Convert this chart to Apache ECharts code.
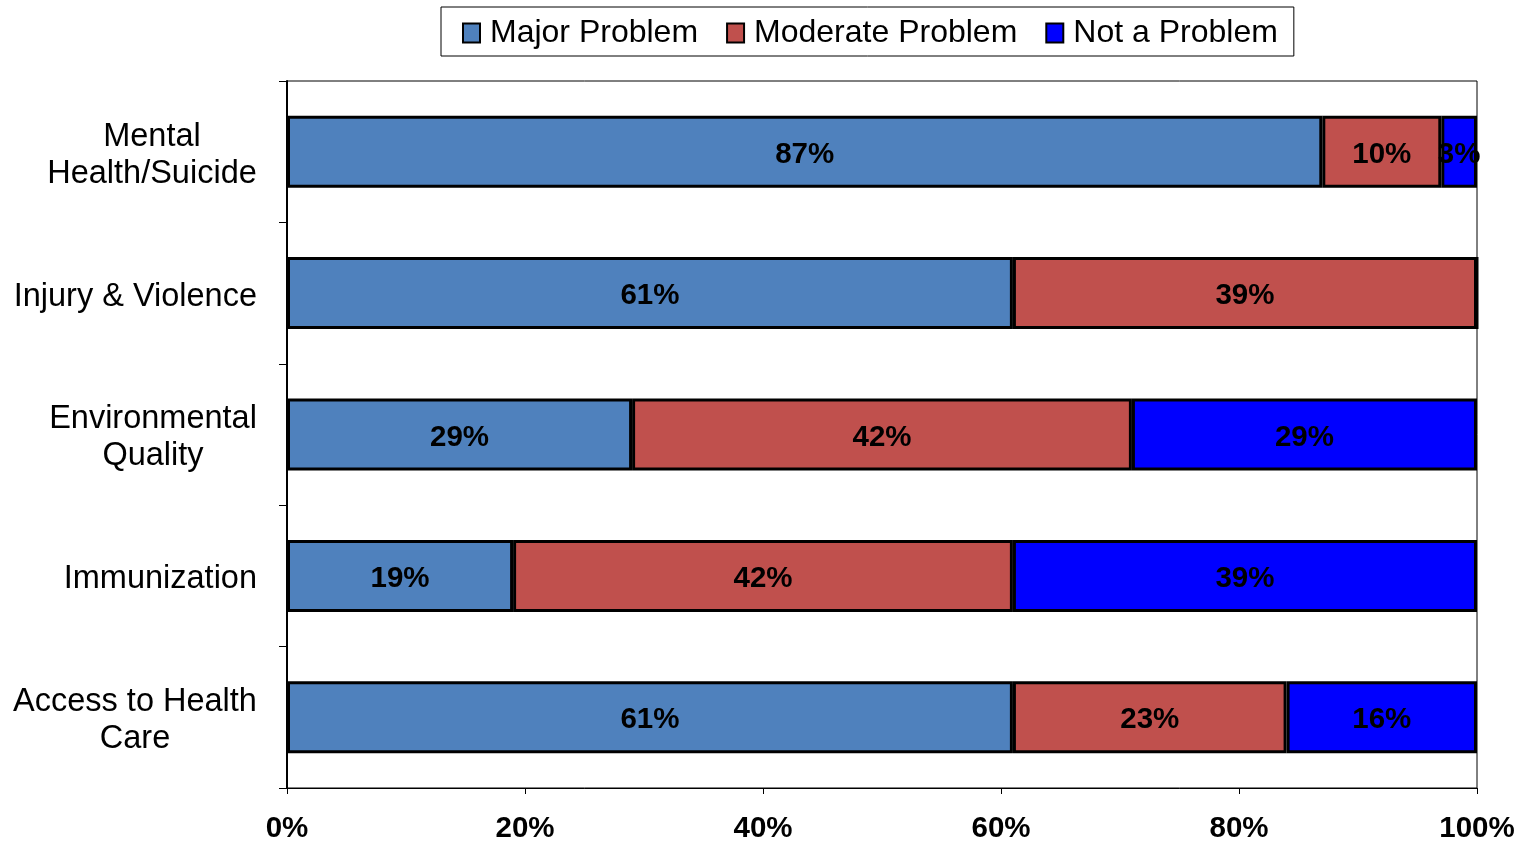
<!DOCTYPE html>
<html>
<head>
<meta charset="utf-8">
<script src="https://cdn.jsdelivr.net/npm/echarts@6/dist/echarts.min.js"></script>
<style>
html,body{margin:0;padding:0;background:#fff;}
#chart{width:1528px;height:844px;}
</style>
</head>
<body>
<div id="chart"></div>
<script>
const categories = ['Mental Health/Suicide', 'Injury & Violence', 'Environmental Quality', 'Immunization', 'Access to Health Care'];
const seriesNames = ['Major Problem', 'Moderate Problem', 'Not a Problem'];
const majorProblem = [87, 61, 29, 19, 61];
const moderateProblem = [10, 39, 42, 42, 23];
const notAProblem = [3, 0, 29, 39, 16];
const xTicks = [0, 20, 40, 60, 80, 100];
const colors = ['#4F81BD', '#C0504D', '#0000FF'];

const FONT = '"Liberation Sans", Arial, sans-serif';
const chart = echarts.init(document.getElementById('chart'), null, {renderer: 'canvas'});

const labelMap = {
  'Mental Health/Suicide': '{mh|Mental}\n{mh|Health/Suicide}',
  'Injury & Violence': '{s|Injury & Violence}',
  'Environmental Quality': '{eq|Environmental}\n{eq|Quality}',
  'Immunization': '{s|Immunization}',
  'Access to Health Care': '{ah|Access to Health}\n{ah|Care}'
};

function mkSeries(name, data, idx) {
  return {
    name: name,
    type: 'bar',
    stack: 'total',
    data: data,
    barWidth: 72,
    itemStyle: {color: colors[idx], borderColor: '#000', borderWidth: 3},
    label: {
      show: true,
      position: 'inside',
      color: '#000',
      fontFamily: FONT,
      fontWeight: 'bold',
      fontSize: 29.5,
      offset: [0, 3],
      formatter: p => p.value > 0 ? p.value + '%' : ''
    },
    emphasis: {disabled: true}
  };
}

chart.setOption({
  animation: false,
  backgroundColor: '#fff',
  legend: {
    data: seriesNames,
    left: 441,
    top: 7,
    padding: [10, 16, 7, 21],
    itemGap: 28,
    itemWidth: 17,
    itemHeight: 19,
    icon: 'rect',
    borderColor: '#000',
    borderWidth: 1,
    itemStyle: {borderColor: '#000', borderWidth: 2},
    textStyle: {fontFamily: FONT, fontSize: 32, color: '#000', padding: [0, 0, 0, 5]}
  },
  grid: {
    left: 287, right: 51, top: 81, bottom: 55,
    show: true, borderColor: '#000', borderWidth: 1, backgroundColor: 'transparent',
    containLabel: false
  },
  xAxis: {
    type: 'value',
    min: 0, max: 100, interval: 20,
    axisLine: {show: true, lineStyle: {color: '#000', width: 1}},
    axisTick: {show: true, length: 6, lineStyle: {color: '#000'}},
    splitLine: {show: false},
    axisLabel: {
      fontFamily: FONT, fontWeight: 'bold', fontSize: 29.5, color: '#000', margin: 26,
      formatter: v => xTicks.includes(v) ? v + '%' : ''
    }
  },
  yAxis: {
    type: 'category',
    inverse: true,
    data: categories,
    axisLine: {show: true, lineStyle: {color: '#000', width: 2}},
    axisTick: {show: true, length: 8, lineStyle: {color: '#000'}},
    axisLabel: {
      margin: 30,
      padding: [7, 0, 0, 0],
      fontFamily: FONT, fontSize: 32.5, color: '#000', lineHeight: 37,
      formatter: v => labelMap[v],
      rich: {
        s: {fontFamily: FONT, fontSize: 32.5, color: '#000', lineHeight: 37},
        mh: {fontFamily: FONT, fontSize: 32.5, color: '#000', lineHeight: 37, width: 210, align: 'center'},
        eq: {fontFamily: FONT, fontSize: 32.5, color: '#000', lineHeight: 37, width: 208, align: 'center'},
        ah: {fontFamily: FONT, fontSize: 32.5, color: '#000', lineHeight: 37, width: 244, align: 'center'}
      }
    }
  },
  series: [
    mkSeries(seriesNames[0], majorProblem, 0),
    mkSeries(seriesNames[1], moderateProblem, 1),
    mkSeries(seriesNames[2], notAProblem, 2)
  ]
});
</script>
</body>
</html>
